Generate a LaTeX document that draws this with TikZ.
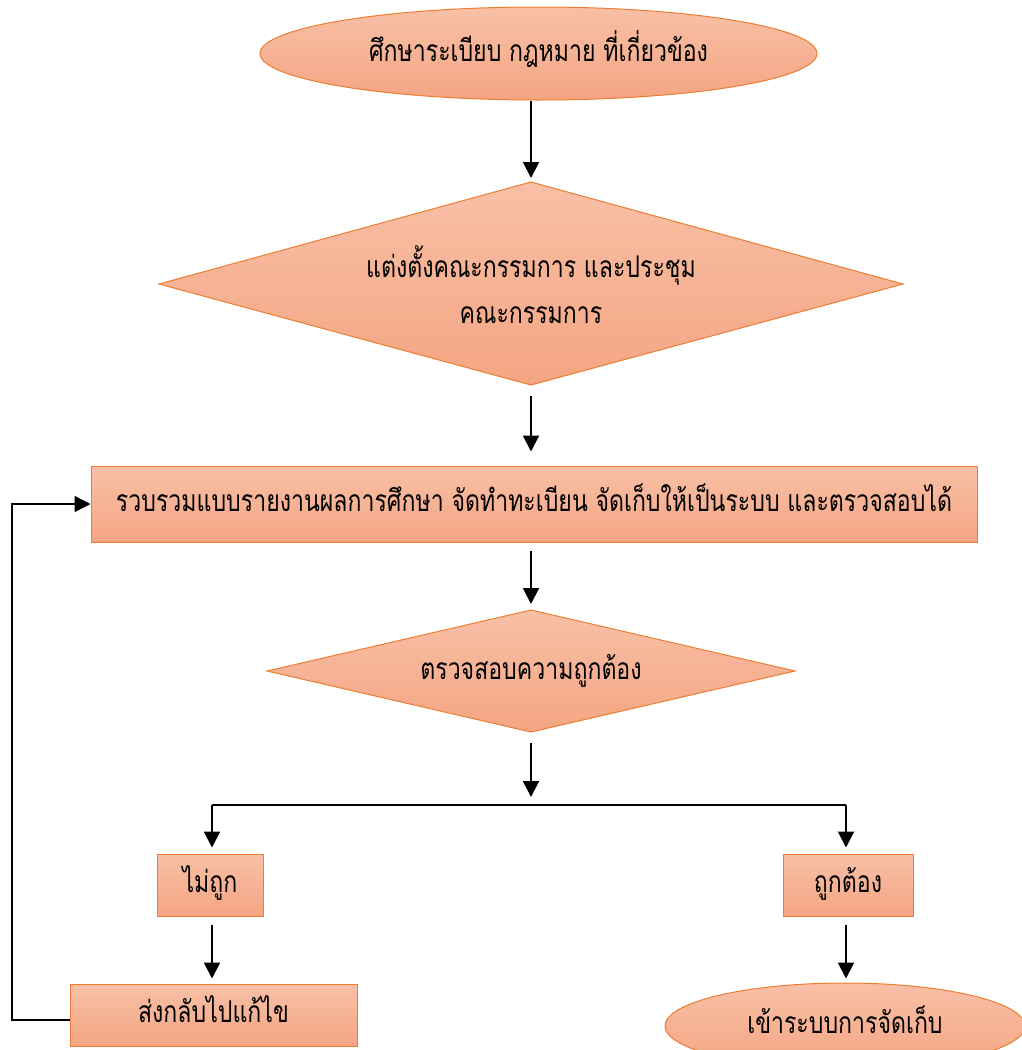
\documentclass[tikz,border=0pt]{standalone}
\usepackage{fontspec}
\newfontfamily\thaifont[Script=Thai,FakeStretch=0.77]{Loma}
\usetikzlibrary{shapes.geometric,arrows.meta}
\definecolor{filltop}{RGB}{248,192,167}
\definecolor{fillbot}{RGB}{244,165,130}
\definecolor{boxedge}{RGB}{237,125,49}
\begin{document}
\begin{tikzpicture}[x=1pt,y=1pt,
  fillstyle/.style={draw=boxedge, line width=1pt, top color=filltop, bottom color=fillbot},
  shapebase/.style={fillstyle, font=\thaifont\fontsize{30}{46}\selectfont,
    inner sep=0pt, align=center, text=black, text height=15pt, text depth=0pt},
  oval/.style={shapebase, ellipse},
  rectbox/.style={shapebase, rectangle},
  label/.style={font=\thaifont\fontsize{30}{46}\selectfont, inner sep=0pt, align=center,
    text=black, text height=15pt, text depth=0pt},
  arr/.style={line width=2pt, -{Triangle[width=16pt,length=16pt]}},
  loopline/.style={line width=1.5pt}
]
\useasboundingbox (0,0) rectangle (1021,-1050);

% start ellipse
\node[oval, minimum width=557pt, minimum height=93pt] (e1) at (538.5,-53.5) {ศึกษาระเบียบ กฎหมาย ที่เกี่ยวข้อง};

% diamond 1
\coordinate (d1n) at (531,-182);
\coordinate (d1e) at (903,-284);
\coordinate (d1s) at (531,-385);
\coordinate (d1w) at (159,-284);
\path[fillstyle] (d1n) -- (d1e) -- (d1s) -- (d1w) -- cycle;
\node[label, text height=61pt] (d1) at (531,-293) {แต่งตั้งคณะกรรมการ และประชุม\\คณะกรรมการ};

% rectangle
\node[rectbox, minimum width=886pt, minimum height=76pt] (r1) at (534,-504) {รวบรวมแบบรายงานผลการศึกษา จัดทำทะเบียน จัดเก็บให้เป็นระบบ และตรวจสอบได้};

% diamond 2
\coordinate (d2n) at (531,-610);
\coordinate (d2e) at (795,-671);
\coordinate (d2s) at (531,-732);
\coordinate (d2w) at (267,-671);
\path[fillstyle] (d2n) -- (d2e) -- (d2s) -- (d2w) -- cycle;
\node[label] (d2) at (531,-672) {ตรวจสอบความถูกต้อง};

\node[rectbox, minimum width=106pt, minimum height=62pt] (no) at (210,-885) {ไม่ถูก};
\node[rectbox, minimum width=287pt, minimum height=62pt] (back) at (213.5,-1015) {ส่งกลับไปแก้ไข};
\node[rectbox, minimum width=130pt, minimum height=62pt] (yes) at (848,-885) {ถูกต้อง};
\node[oval, minimum width=360pt, minimum height=86pt] (store) at (845,-1026) {เข้าระบบการจัดเก็บ};

\coordinate (split) at (531,-805);
\coordinate (splitL) at (212,-805);
\coordinate (splitR) at (846,-805);
\coordinate (loopS) at (70,-1020);
\coordinate (loopB) at (12,-1020);
\coordinate (loopT) at (12,-504);

\draw[arr, shorten >=4pt] (e1.south -| d1n) -- (d1n);
\draw[arr, shorten <=11pt, shorten >=14pt] (d1s) -- (r1.north -| d1s);
\draw[arr, shorten <=8pt, shorten >=6pt] (r1.south -| d2n) -- (d2n);
\draw[arr, shorten <=11pt, shorten >=8pt] (d2s) -- (split);
\draw[line width=1.5pt] (splitL) -- (splitR);
\draw[arr, shorten >=6pt] (splitL) -- (splitL |- no.north);
\draw[arr, shorten >=6pt] (splitR) -- (splitR |- yes.north);
\draw[arr, shorten <=8pt, shorten >=5pt] (no.south -| splitL) -- (splitL |- back.north);
\draw[arr, shorten <=8pt, shorten >=4pt] (yes.south -| splitR) -- (splitR |- store.north);
\draw[loopline, -{Triangle[width=16pt,length=16pt]}] (loopS) -- (loopB) -- (loopT) -- (r1.west);
\end{tikzpicture}
\end{document}
